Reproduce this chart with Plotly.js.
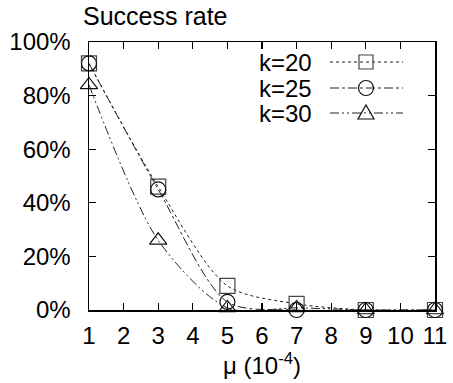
<!DOCTYPE html>
<html>
<head>
<meta charset="utf-8">
<script src="https://cdn.plot.ly/plotly-3.0.1.min.js"></script>
<style>html,body{margin:0;padding:0;background:#fff;}</style>
</head>
<body>
<div id="chart" style="width:453px;height:383px;"></div>
<script>
const mu = [1, 3, 5, 7, 9, 11];
const seriesNames = ['k=20', 'k=25', 'k=30'];
const k20 = [92, 46, 9, 2.3, 0, 0];
const k25 = [92, 45, 3, 0, 0, 0];
const k30 = [84, 26, 0.8, 0.8, 0, 0];
const yTicks = [0, 20, 40, 60, 80, 100];
const xTicks = [1, 2, 3, 4, 5, 6, 7, 8, 9, 10, 11];

const seriesValues = [k20, k25, k30];
const symbols = ['square-open', 'circle-open', 'triangle-up-open'];
const dashes = ['dot', 'dashdot', '9px,3px,2px,3px,2px,3px'];
const markerColors = ['#444', '#111', '#111'];
const lineColor = '#222';
const FONT = 'Liberation Sans, Arial, Helvetica, sans-serif';

const traces = seriesValues.map((vals, i) => ({
  x: mu, y: vals, name: seriesNames[i], type: 'scatter', mode: 'lines+markers',
  line: {color: lineColor, width: 1, dash: dashes[i], shape: 'spline', smoothing: 0.8},
  marker: {symbol: symbols[i], size: 15, color: markerColors[i], line: {width: 1.2, color: markerColors[i]}},
  cliponaxis: false, showlegend: false
}));

// custom legend (text left, sample right) in paper coordinates
const L = 89, R = 435, T = 42, B = 310;
const px2x = p => (p - L) / (R - L);
const py2y = p => (B - p) / (B - T);
const rowsY = [62, 88, 113];
const shapes = [], annotations = [];
seriesNames.forEach((nm, i) => {
  const yy = py2y(rowsY[i]);
  annotations.push({xref: 'paper', yref: 'paper', x: px2x(314), y: yy, xanchor: 'right', yanchor: 'middle',
    text: nm, showarrow: false, font: {family: FONT, size: 24, color: '#000'}});
  shapes.push({type: 'line', xref: 'paper', yref: 'paper', x0: px2x(330), x1: px2x(403), y0: yy, y1: yy,
    line: {color: lineColor, width: 1, dash: dashes[i]}});
  const base = {xref: 'paper', yref: 'paper', xsizemode: 'pixel', ysizemode: 'pixel', xanchor: px2x(366), yanchor: yy,
    line: {color: markerColors[i], width: 1.2}, fillcolor: 'rgba(0,0,0,0)'};
  if (i === 0) shapes.push(Object.assign({type: 'rect', x0: -7, x1: 7, y0: -7, y1: 7}, base));
  else if (i === 1) shapes.push(Object.assign({type: 'circle', x0: -7.5, x1: 7.5, y0: -7.5, y1: 7.5}, base));
  else shapes.push(Object.assign({type: 'path', path: 'M-8,-6 L8,-6 L0,8 Z'}, base));
});

const axisCommon = {
  showline: true, mirror: 'ticks', linecolor: '#000', linewidth: 1.5,
  ticks: 'inside', ticklen: 7, tickwidth: 1.2, tickcolor: '#000',
  showgrid: false, zeroline: false, fixedrange: true,
  tickfont: {family: FONT, size: 24, color: '#000'}
};

const layout = {
  width: 453, height: 383,
  margin: {l: 89, r: 18, t: 42, b: 73, pad: 0},
  paper_bgcolor: '#fff', plot_bgcolor: '#fff',
  font: {family: FONT, color: '#000'},
  showlegend: false,
  title: {text: 'Success rate', xref: 'container', yref: 'container', x: 83 / 453, xanchor: 'left',
    y: 1 - 16 / 383, yanchor: 'middle', font: {family: FONT, size: 25, color: '#000'}},
  xaxis: Object.assign({}, axisCommon, {range: [1, 11], tickvals: xTicks, ticktext: xTicks.map(String),
    ticklabelstandoff: 4,
    title: {text: 'μ (10<sup>-4</sup>)', font: {family: FONT, size: 24, color: '#000'}, standoff: 0}}),
  yaxis: Object.assign({}, axisCommon, {range: [0, 100], tickvals: yTicks, ticktext: yTicks.map(v => v + '%'),
    ticklabelstandoff: 12}),
  shapes: shapes, annotations: annotations
};

Plotly.newPlot('chart', traces, layout, {staticPlot: true, displayModeBar: false});
</script>
</body>
</html>
